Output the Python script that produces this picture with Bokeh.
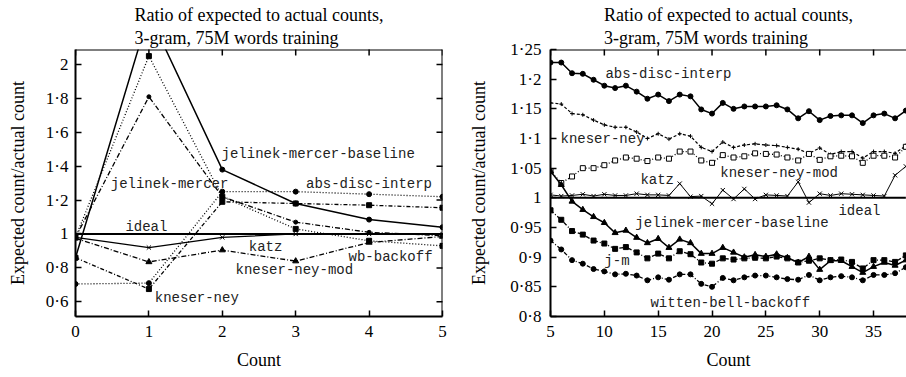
import math
from bokeh.plotting import figure
from bokeh.layouts import row
from bokeh.models import (FixedTicker, CustomJSTickFormatter, Range1d, Title, Label, Span)
from bokeh.embed import file_html
from bokeh.resources import INLINE

# ---------------- data: left panel (counts 0..5) ----------------
counts_left = [0, 1, 2, 3, 4, 5]
ideal_left = [1.0, 1.0, 1.0, 1.0, 1.0, 1.0]
jm_baseline_left = [0.86, 2.30, 1.38, 1.18, 1.085, 1.04]
jelinek_mercer_left = [0.98, 2.05, 1.22, 1.03, 0.96, 0.93]
wb_backoff_left = [0.98, 1.81, 1.22, 1.07, 1.01, 0.99]
abs_disc_left = [0.705, 0.71, 1.25, 1.25, 1.235, 1.22]
kneser_ney_left = [0.86, 0.675, 1.19, 1.18, 1.17, 1.155]
katz_left = [0.98, 0.92, 0.98, 1.0, 1.0, 1.0]
kn_mod_left = [0.975, 0.835, 0.905, 0.84, 0.95, 0.985]

# ---------------- data: right panel (counts 5..38) ----------------
counts_right = list(range(5, 39))
ideal_right = [1.0] * len(counts_right)
abs_disc_right = [1.228, 1.228, 1.210, 1.209, 1.199, 1.189, 1.185, 1.189, 1.179, 1.167,
                  1.174, 1.163, 1.174, 1.171, 1.149, 1.142, 1.160, 1.150, 1.154, 1.154,
                  1.154, 1.156, 1.149, 1.134, 1.146, 1.131, 1.138, 1.139, 1.139, 1.126,
                  1.139, 1.142, 1.134, 1.147]
kneser_ney_right = [1.160, 1.158, 1.142, 1.140, 1.131, 1.123, 1.119, 1.119, 1.111, 1.100,
                    1.108, 1.099, 1.108, 1.104, 1.085, 1.078, 1.094, 1.085, 1.089, 1.091,
                    1.089, 1.088, 1.085, 1.082, 1.075, 1.084, 1.073, 1.078, 1.078, 1.067,
                    1.078, 1.078, 1.075, 1.088]
kn_mod_right = [1.045, 1.025, 1.036, 1.050, 1.050, 1.055, 1.063, 1.068, 1.066, 1.062,
                1.068, 1.066, 1.078, 1.078, 1.063, 1.059, 1.072, 1.068, 1.070, 1.075,
                1.074, 1.073, 1.068, 1.063, 1.074, 1.064, 1.070, 1.071, 1.070, 1.059,
                1.071, 1.071, 1.068, 1.086]
katz_right = [1.005, 1.003, 1.004, 1.006, 1.003, 1.006, 1.004, 1.004, 1.007, 1.005,
              1.005, 1.004, 1.024, 1.002, 1.003, 0.990, 1.013, 0.998, 1.015, 0.998,
              1.005, 1.004, 1.003, 1.027, 0.992, 1.007, 1.004, 1.007, 1.006, 1.005,
              1.004, 1.003, 1.038, 1.053]
jm_baseline_right = [1.045, 1.022, 0.994, 0.980, 0.968, 0.958, 0.941, 0.945, 0.933, 0.924,
                     0.931, 0.916, 0.930, 0.924, 0.906, 0.906, 0.916, 0.908, 0.900, 0.904,
                     0.901, 0.905, 0.899, 0.891, 0.901, 0.879, 0.894, 0.894, 0.884, 0.874,
                     0.884, 0.891, 0.886, 0.895]
jm_right = [0.979, 0.963, 0.944, 0.938, 0.928, 0.923, 0.914, 0.917, 0.908, 0.898,
            0.906, 0.898, 0.910, 0.905, 0.891, 0.889, 0.898, 0.896, 0.898, 0.899,
            0.898, 0.901, 0.898, 0.891, 0.894, 0.898, 0.895, 0.896, 0.892, 0.881,
            0.895, 0.895, 0.892, 0.903]
wb_right = [0.928, 0.913, 0.895, 0.889, 0.880, 0.876, 0.871, 0.872, 0.869, 0.861,
            0.866, 0.862, 0.871, 0.871, 0.855, 0.850, 0.865, 0.861, 0.866, 0.869,
            0.869, 0.866, 0.863, 0.862, 0.870, 0.861, 0.866, 0.868, 0.866, 0.861,
            0.870, 0.870, 0.873, 0.883]

# ticks
left_xticks = [0, 1, 2, 3, 4, 5]
left_yticks = [0.6, 0.8, 1.0, 1.2, 1.4, 1.6, 1.8, 2.0]
right_xticks = [5, 10, 15, 20, 25, 30, 35, 40]
right_yticks = [0.8, 0.85, 0.9, 0.95, 1.0, 1.05, 1.1, 1.15, 1.2, 1.25]

# axis ranges
left_xrange = (0, 5)
left_yrange = (0.513, 2.089)
right_xrange = (5, 38.06)
right_yrange = (0.8, 1.25)

# curve labels: (text, x, y) in data units
left_labels = [("jelinek-mercer-baseline", 1.99, 1.47),
               ("jelinek-mercer", 0.48, 1.293),
               ("abs-disc-interp", 3.14, 1.293),
               ("ideal", 0.68, 1.043),
               ("katz", 2.36, 0.922),
               ("wb-backoff", 3.72, 0.864),
               ("kneser-ney-mod", 2.18, 0.786),
               ("kneser-ney", 1.08, 0.621)]
right_labels = [("abs-disc-interp", 10.1, 1.208),
                ("kneser-ney", 5.93, 1.099),
                ("katz", 13.35, 1.030),
                ("kneser-ney-mod", 20.77, 1.042),
                ("ideal", 31.74, 0.978),
                ("jelinek-mercer-baseline", 12.88, 0.958),
                ("j-m", 10.0, 0.894),
                ("witten-bell-backoff", 14.28, 0.823)]

TITLE = "Ratio of expected to actual counts,\n3-gram, 75M words training"
SERIF = "Liberation Serif"
MONO = "Liberation Mono"

fmt_code = r"return (Math.round(tick*100)/100).toString().replace('.', '\u00b7');"


def style_axis(ax, ticks):
    ax.ticker = FixedTicker(ticks=ticks)
    ax.major_tick_in = 6
    ax.major_tick_out = 0
    ax.minor_tick_in = 0
    ax.minor_tick_out = 0
    ax.axis_line_width = 2
    ax.axis_line_color = "black"
    ax.major_tick_line_width = 1.5
    ax.major_tick_line_color = "black"
    ax.formatter = CustomJSTickFormatter(code=fmt_code)
    ax.major_label_text_font = SERIF
    ax.major_label_text_font_size = "17px"
    ax.major_label_text_color = "black"
    ax.major_label_text_line_height = 1.0


def make_fig(width, xr, yr, mbl, mbr, xticks, yticks, title_offset, ylab_standoff, ytick_standoff):
    p = figure(width=width, height=377, x_range=Range1d(*xr), y_range=Range1d(*yr),
               output_backend="svg", toolbar_location=None,
               min_border_left=mbl, min_border_right=mbr,
               min_border_top=47, min_border_bottom=60,
               background_fill_color="white", border_fill_color="white")
    p.outline_line_color = None
    p.xgrid.visible = False
    p.ygrid.visible = False
    style_axis(p.xaxis[0], xticks)
    style_axis(p.yaxis[0], yticks)
    p.xaxis[0].major_label_standoff = 9
    p.yaxis[0].major_label_standoff = ytick_standoff
    p.yaxis[0].axis_label = "Expected count/actual count"
    p.yaxis[0].axis_label_text_font = SERIF
    p.yaxis[0].axis_label_text_font_size = "18px"
    p.yaxis[0].axis_label_text_font_style = "normal"
    p.yaxis[0].axis_label_text_color = "black"
    p.yaxis[0].axis_label_standoff = ylab_standoff
    p.title.text = TITLE
    p.title.align = "center"
    p.title.text_font = SERIF
    p.title.text_font_size = "18px"
    p.title.text_font_style = "normal"
    p.title.text_color = "black"
    p.title.text_line_height = 1.15
    p.title.offset = title_offset
    p.title.standoff = 4
    xl = Title(text="Count", align="center", text_font=SERIF, text_font_size="18px",
               text_font_style="normal", text_color="black", offset=title_offset,
               standoff=16, text_line_height=1.0)
    p.add_layout(xl, "below")
    # top border and inward tick marks along the top edge
    p.add_layout(Span(location=yr[1], dimension="width", line_color="black", line_width=2))
    p.scatter(xticks, [yr[1]] * len(xticks), marker="dash", angle=math.pi / 2, size=12,
              line_color="black", line_width=1.5)
    return p


def add_right_border(p, xr, yticks):
    p.add_layout(Span(location=xr[1], dimension="height", line_color="black", line_width=2))
    p.scatter([xr[1]] * len(yticks), yticks, marker="dash", size=12,
              line_color="black", line_width=1.5)


def add_series(p, xs, ys, dash, width, marker, msize, fill="black"):
    p.line(xs, ys, line_color="black", line_width=width, line_dash=dash)
    if marker:
        p.scatter(xs, ys, marker=marker, size=msize, line_color="black",
                  fill_color=fill, line_width=1)


def add_labels(p, labels):
    for txt, x, y in labels:
        p.add_layout(Label(x=x, y=y, text=txt, text_font=MONO, text_font_size="14px",
                           text_color="#222222", text_baseline="middle", text_align="left"))


# ---------------- left figure ----------------
left = make_fig(453, left_xrange, left_yrange, 75, 11, left_xticks, left_yticks, 0, 15, 7)
add_right_border(left, left_xrange, left_yticks)
add_series(left, counts_left, ideal_left, "solid", 2, None, 0)
add_series(left, counts_left, jm_baseline_left, "solid", 1.5, "circle", 5)
add_series(left, counts_left, jelinek_mercer_left, "1 2", 1.3, "square", 5)
add_series(left, counts_left, wb_backoff_left, "5 2 1 2", 1.3, "circle", 4)
add_series(left, counts_left, abs_disc_left, "1 2", 1.3, "circle", 5)
add_series(left, counts_left, kneser_ney_left, "4 2 1 2", 1.3, "square", 5)
add_series(left, counts_left, katz_left, "solid", 1.2, "x", 6)
add_series(left, counts_left, kn_mod_left, "5 2 1 2", 1.3, "triangle", 6)
add_labels(left, left_labels)

# ---------------- right figure ----------------
right = make_fig(453, right_xrange, right_yrange, 97, 0, right_xticks, right_yticks, 10, 18, 9)
add_series(right, counts_right, ideal_right, "solid", 2, None, 0)
add_series(right, counts_right, abs_disc_right, "solid", 1.5, "circle", 5)
add_series(right, counts_right, kneser_ney_right, "3 2", 1.2, "cross", 4)
add_series(right, counts_right, kn_mod_right, "1 2", 1.3, "square", 5, fill="white")
add_series(right, counts_right, katz_right, "solid", 1.0, "x", 6)
add_series(right, counts_right, jm_baseline_right, "solid", 1.5, "triangle", 6)
add_series(right, counts_right, jm_right, "4 2 1 2", 1.3, "square", 5)
add_series(right, counts_right, wb_right, "4 2 1 2", 1.3, "circle", 5)
add_labels(right, right_labels)

layout = row(left, right, spacing=0)
with open("out.html", "w", encoding="utf-8") as f:
    f.write(file_html(layout, INLINE))
